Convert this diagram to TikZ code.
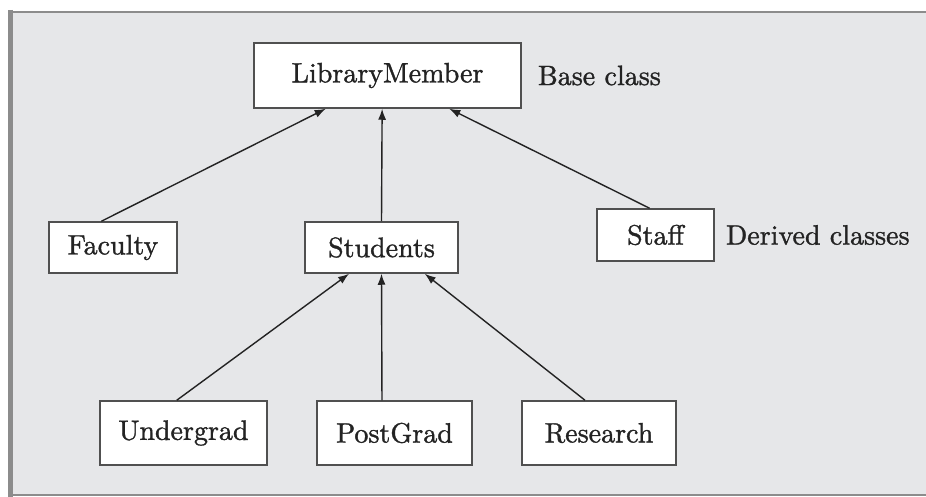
\documentclass[tikz,border=0pt]{standalone}
\usepackage{fontspec}
\usepackage{tikz}
\usetikzlibrary{calc,positioning,arrows.meta}
\newfontfamily\clsfont{lmroman10-regular.otf}[FakeBold=1.2]
\definecolor{panelgrey}{RGB}{230,231,233}
\definecolor{framegrey}{RGB}{140,140,140}
\definecolor{boxline}{RGB}{80,80,80}
\definecolor{inkgrey}{RGB}{35,35,35}

\begin{document}
\begin{tikzpicture}[x=1pt, y=-1pt,
  cls/.style={draw=boxline, fill=white, line width=1.5pt,
    font=\clsfont\fontsize{28}{32}\selectfont, text=inkgrey, inner sep=0pt},
  note/.style={font=\clsfont\fontsize{28}{32}\selectfont, text=inkgrey, inner sep=0pt},
  arr/.style={-{Latex[length=11pt,width=8pt]}, line width=1.4pt, inkgrey},
  frame/.style={framegrey, line width=1.5pt},
]
  \useasboundingbox (0,0) rectangle (926,497);

  % grey panel
  \fill[panelgrey] (10,12) rectangle (926,495);
  \draw[frame] (10,12) -- (926,12);
  \draw[frame] (10,495) -- (926,495);
  \draw[frame, line width=5pt] (10.5,10) -- (10.5,497);

  % classes
  \node[cls, minimum width=267pt, minimum height=65pt] (lm) at (387.5,75.5) {LibraryMember};
  \node[cls, minimum width=128pt, minimum height=51pt] (fac) at (113,247.5) {Faculty};
  \node[cls, minimum width=153pt, minimum height=51pt] (stud) at (381.5,247.5) {Students};
  \node[cls, minimum width=117pt, minimum height=52pt] (staff) at (655.5,235) {Staff};
  \node[cls, minimum width=167pt, minimum height=64pt] (ugrad) at (183.5,433) {Undergrad};
  \node[cls, minimum width=155pt, minimum height=64pt] (pgrad) at (394.5,433) {PostGrad};
  \node[cls, minimum width=154pt, minimum height=64pt] (res) at (599,433) {Research};

  \node[note, right=16pt of lm] (base) {Base class};
  \node[note, right=11pt of staff] (derived) {Derived classes};

  % inheritance arrows
  \draw[arr] ($(fac.north west)!0.41!(fac.north east)$) -- ($(lm.south west)!0.27!(lm.south east)$);
  \draw[arr] ($(stud.north west)!0.50!(stud.north east)$) -- ($(lm.south west)!0.48!(lm.south east)$);
  \draw[arr] ($(staff.north west)!0.45!(staff.north east)$) -- ($(lm.south west)!0.73!(lm.south east)$);

  \draw[arr] ($(ugrad.north west)!0.46!(ugrad.north east)$) -- ($(stud.south west)!0.29!(stud.south east)$);
  \draw[arr] ($(pgrad.north west)!0.42!(pgrad.north east)$) -- ($(stud.south west)!0.50!(stud.south east)$);
  \draw[arr] ($(res.north west)!0.41!(res.north east)$) -- ($(stud.south west)!0.78!(stud.south east)$);
\end{tikzpicture}
\end{document}
